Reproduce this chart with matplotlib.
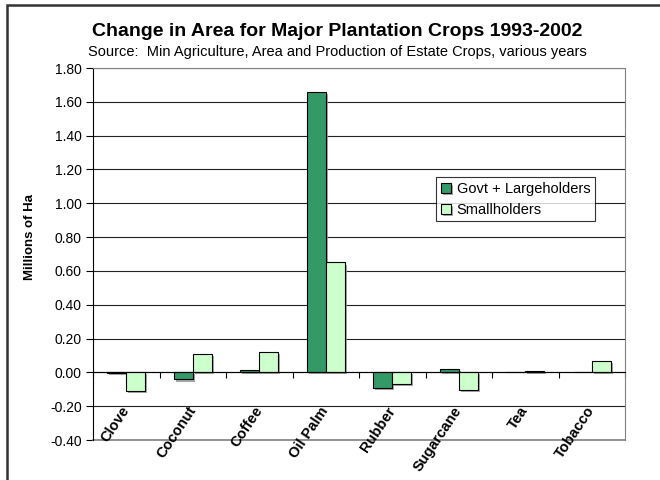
import matplotlib
matplotlib.use("Agg")
import matplotlib.pyplot as plt
import matplotlib.patheffects as pe
from matplotlib.patches import Rectangle
import numpy as np

plt.rcParams['font.family'] = ['Liberation Sans', 'DejaVu Sans']

# data
crops = ["Clove", "Coconut", "Coffee", "Oil Palm", "Rubber", "Sugarcane", "Tea", "Tobacco"]
govt_large = [-0.005, -0.042, 0.012, 1.66, -0.092, 0.022, 0.0, 0.0]
small = [-0.108, 0.108, 0.12, 0.65, -0.067, -0.106, 0.01, 0.067]
y_ticks = [-0.4, -0.2, 0.0, 0.2, 0.4, 0.6, 0.8, 1.0, 1.2, 1.4, 1.6, 1.8]

dark_green = "#339966"
light_green = "#CCFFCC"

fig = plt.figure(figsize=(6.6, 4.8), dpi=100)
ax = fig.add_axes([93 / 660, 40 / 480, 532 / 660, 372 / 480])

x = np.arange(len(crops))
w = 0.286
shadow = [pe.SimplePatchShadow(offset=(1.5, -1.5), shadow_rgbFace="#909090", alpha=0.8), pe.Normal()]

b1 = ax.bar(x - w / 2, govt_large, w, color=dark_green, edgecolor="black", linewidth=0.8,
            label="Govt + Largeholders", zorder=3)
b2 = ax.bar(x + w / 2, small, w, color=light_green, edgecolor="black", linewidth=0.8,
            label="Smallholders", zorder=3)
for bar in list(b1) + list(b2):
    bar.set_path_effects(shadow)

ax.set_xlim(-0.5, len(crops) - 0.5)
ax.set_ylim(-0.4, 1.8)
ax.set_yticks(y_ticks)
ax.set_yticklabels(["%.2f" % v for v in y_ticks], fontsize=10)
ax.yaxis.grid(True, color="#222222", linewidth=0.8, zorder=0)
ax.set_axisbelow(True)

# category axis sits on zero, ticks at category boundaries
ax.spines["bottom"].set_position(("data", 0))
ax.spines["bottom"].set_color("black")
ax.spines["bottom"].set_zorder(4)
ax.set_xticks(np.arange(len(crops) + 1) - 0.5)
ax.set_xticklabels([])
ax.tick_params(axis="x", direction="out", length=4, width=0.8, color="black")
ax.tick_params(axis="y", direction="out", length=5, width=0.8, pad=3)
ax.spines["left"].set_color("black")
ax.spines["top"].set_color("#808080")
ax.spines["right"].set_color("#808080")
ax.axhline(-0.4, color="#808080", linewidth=1.2, zorder=1, clip_on=False)

for i, name in enumerate(crops):
    ax.text(i + 0.0, -0.21, name, rotation=56, rotation_mode="anchor", ha="right", va="center",
            fontsize=10.5, fontweight="bold", zorder=5)

leg = ax.legend(loc="upper left", bbox_to_anchor=(0.645, 0.706), fontsize=10.5, frameon=True,
                fancybox=False, edgecolor="black", borderpad=0.3, handlelength=0.7,
                handleheight=0.7, handletextpad=0.4, labelspacing=0.5, borderaxespad=0)
leg.get_frame().set_linewidth(0.8)
leg.set_zorder(6)

fig.text(337 / 660, 1 - 31 / 480, "Change in Area for Major Plantation Crops 1993-2002",
         ha="center", va="center", fontsize=14, fontweight="bold")
fig.text(337 / 660, 1 - 52 / 480,
         "Source:  Min Agriculture, Area and Production of Estate Crops, various years",
         ha="center", va="center", fontsize=10.5)
fig.text(30 / 660, 1 - 237 / 480, "Millions of Ha", rotation=90, ha="center", va="center",
         fontsize=9.5, fontweight="bold")

# outer chart frame
fig.patches.append(Rectangle((7 / 660, -0.1), 1.0, 1.1 - 5 / 480, transform=fig.transFigure,
                             fill=False, edgecolor="#333333", linewidth=1.8))

fig.savefig("out.png", dpi=100)
